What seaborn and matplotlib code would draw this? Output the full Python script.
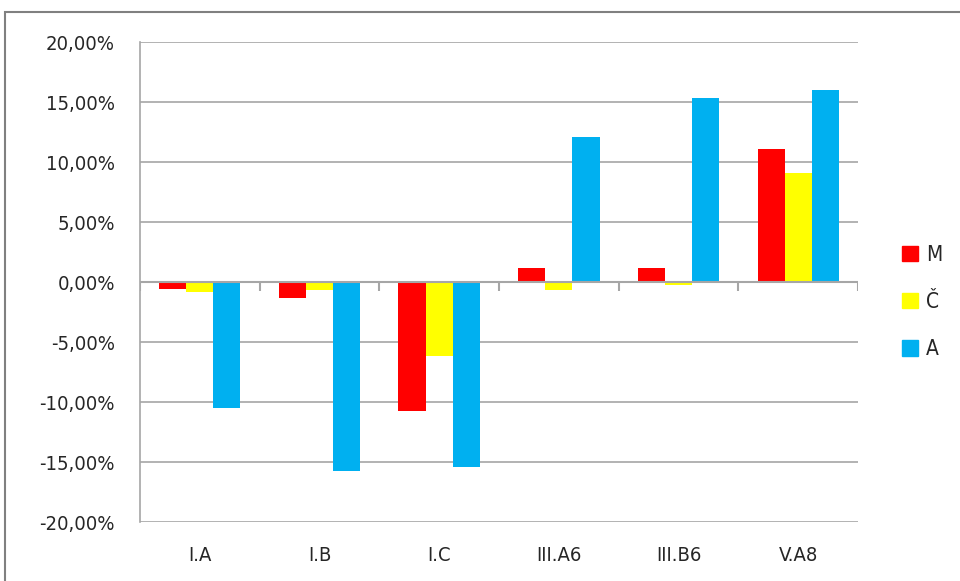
import numpy as np
import pandas as pd
import matplotlib
matplotlib.use("Agg")
import matplotlib.pyplot as plt
import seaborn as sns
from matplotlib.patches import Rectangle
from matplotlib.ticker import FuncFormatter

categories = ["I.A", "I.B", "I.C", "III.A6", "III.B6", "V.A8"]
series = ["M", "Č", "A"]
m_vals = [-0.6, -1.3, -10.75, 1.2, 1.2, 11.1]
c_vals = [-0.8, -0.7, -6.15, -0.7, -0.25, 9.1]
a_vals = [-10.5, -15.75, -15.4, 12.1, 15.3, 16.0]
colors = ["#FF0000", "#FFFF00", "#00B0F0"]

df = pd.DataFrame({
    "cat": categories * 3,
    "series": ["M"] * 6 + ["Č"] * 6 + ["A"] * 6,
    "val": m_vals + c_vals + a_vals,
})

sns.set_style("white")
plt.rcParams["font.family"] = ["DejaVu Sans"]
plt.rcParams["font.stretch"] = "condensed"

fig = plt.figure(figsize=(9.6, 5.81), dpi=100)
ax = fig.add_axes([0.1458, 0.1015, 0.7480, 0.8262])

sns.barplot(data=df, x="cat", y="val", hue="series", order=categories,
            hue_order=series, palette=colors, width=0.68, ax=ax,
            saturation=1, legend=False, linewidth=0)

grid_c = "#A6A6A6"
ax.set_ylim(-20, 20)
ax.set_xlim(-0.5, len(categories) - 0.5)
ax.set_yticks(np.arange(-20, 21, 5))
ax.yaxis.set_major_formatter(FuncFormatter(lambda v, p: f"{v:.2f}%".replace(".", ",")))
for y in np.arange(-20, 21, 5):
    if y != 0:
        ax.axhline(y, color=grid_c, lw=1.2, zorder=0)
ax.axhline(0, color=grid_c, lw=1.5, zorder=3)
# category boundary ticks on the zero line
ax.vlines(np.arange(-0.5, len(categories)), -0.75, 0, color=grid_c, lw=1.5, zorder=3)

for s in ["top", "right", "bottom"]:
    ax.spines[s].set_visible(False)
ax.spines["left"].set_color(grid_c)
ax.spines["left"].set_linewidth(1.2)
ax.tick_params(axis="y", length=6, width=1.2, color=grid_c, labelsize=14.5, pad=12,
               labelcolor="#262626")
ax.tick_params(axis="x", length=0, labelsize=14.5, pad=17, labelcolor="#262626")
ax.set_xlabel("")
ax.set_ylabel("")

handles = [Rectangle((0, 0), 1, 1, color=c) for c in colors]
fig.legend(handles, series, loc="center left", bbox_to_anchor=(0.92, 0.48),
           frameon=False, fontsize=15, handlelength=0.75, handleheight=0.75,
           labelspacing=1.3, handletextpad=0.4, labelcolor="#262626")

# outer chart frame (cut by the image edges)
fig.patches.append(Rectangle((0.005, -0.05), 1.1, 1.029, transform=fig.transFigure,
                             fill=False, edgecolor="#808080", lw=1.5))

fig.savefig("out.png", dpi=100)
